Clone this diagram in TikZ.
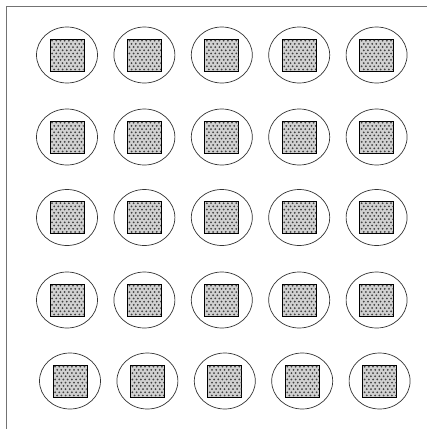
\documentclass[tikz,border=0pt]{standalone}
\usetikzlibrary{shapes.geometric,calc}
\tikzset{
  cell/.style={draw=black!80, line width=0.7pt, ellipse, minimum width=61pt, minimum height=56pt, inner sep=0pt},
  chip/.style={draw=black, line width=0.7pt, fill=black!18, minimum width=34pt, minimum height=32pt, inner sep=0pt},
  dotc/.style={fill=black!75},
  frameline/.style={draw=black!55, line width=0.6pt}
}
\begin{document}
\begin{tikzpicture}[x=1pt,y=-1pt]
\useasboundingbox (0,0) rectangle (427,429);
\coordinate (tl) at (6,6);
\coordinate (tr) at (427,6);
\coordinate (bl) at (6,429);
\draw[frameline] (tr) -- (tl) -- (bl);
\foreach \r/\y/\dx in {1/55/0,2/137/0,3/217.5/0,4/300/0,5/381/3} {
  \foreach \c in {1,...,5} {
    \pgfmathsetmacro{\xx}{67+(\c-1)*77.4+\dx}
    \node[cell] (e\r\c) at (\xx,\y) {};
    \node[chip] (s\r\c) at (\xx,\y) {};
    \begin{scope}
      \clip ($(s\r\c.south west)+(0.8,-0.8)$) rectangle ($(s\r\c.north east)+(-0.8,0.8)$);
      \foreach \i in {0,...,7} {
        \foreach \j in {0,...,9} {
          \pgfmathsetmacro{\off}{mod(\j,2)*2.1}
          \fill[dotc] ($(s\r\c.north west)+(2.4+\i*4.2+\off,2.0+\j*3.2)$) circle (1.0pt);
        }
      }
    \end{scope}
  }
}
\end{tikzpicture}
\end{document}
